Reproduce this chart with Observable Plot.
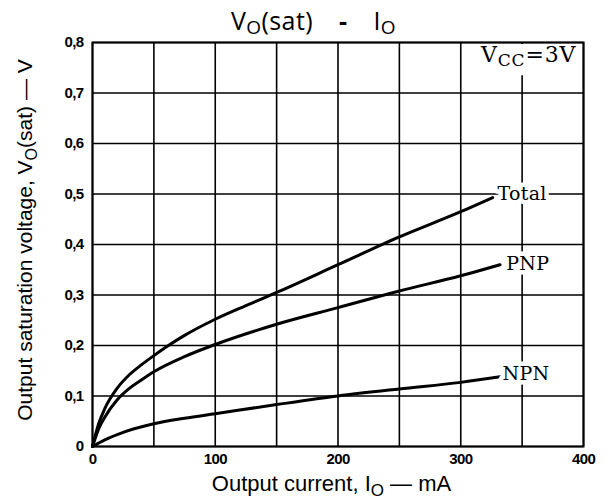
<!DOCTYPE html>
<html><head><meta charset="utf-8">
<script src="https://cdn.jsdelivr.net/npm/d3@7"></script>
<script src="https://cdn.jsdelivr.net/npm/@observablehq/plot@0.6"></script>
<style>
body{margin:0;background:#fff;}
#chart svg{display:block;}
</style></head><body><div id="chart"></div>
<script>
// ---- data ----
const totalI = [0, 5, 10, 20, 30, 40, 50, 60, 75, 100, 125, 150, 200, 250, 300, 326];
const totalV = [0, 0.045, 0.075, 0.115, 0.142, 0.162, 0.18, 0.197, 0.22, 0.252, 0.279, 0.305, 0.36, 0.415, 0.465, 0.493];
const pnpI = [0, 5, 10, 20, 30, 40, 50, 75, 100, 150, 200, 250, 300, 332];
const pnpV = [0, 0.035, 0.058, 0.092, 0.115, 0.132, 0.148, 0.178, 0.202, 0.242, 0.275, 0.308, 0.338, 0.36];
const npnI = [0, 10, 25, 50, 75, 100, 150, 200, 250, 300, 332];
const npnV = [0, 0.013, 0.028, 0.045, 0.056, 0.065, 0.083, 0.1, 0.114, 0.127, 0.138];

const seriesNames = ["Total", "PNP", "NPN"];
const seriesLabelI = [330, 337, 334];
const seriesLabelV = [0.5, 0.362, 0.143];

const xGrid = [0, 50, 100, 150, 200, 250, 300, 350, 400];
const xTickValues = [0, 100, 200, 300, 400];
const yGrid = [0, 0.1, 0.2, 0.3, 0.4, 0.5, 0.6, 0.7, 0.8];
const yTickLabels = ["0", "0,1", "0,2", "0,3", "0,4", "0,5", "0,6", "0,7", "0,8"];
const vccAt = [317, 0.76];

// ---- build tables ----
const rows = [];
[[totalI, totalV, "Total"], [pnpI, pnpV, "PNP"], [npnI, npnV, "NPN"]].forEach(([xs, ys, s]) => {
  xs.forEach((x, i) => rows.push({I: x, V: ys[i], s}));
});
const labels = seriesNames.map((n, i) => ({name: n, I: seriesLabelI[i], V: seriesLabelV[i]}));

const serif = "'DejaVu Serif', 'Liberation Serif', serif";
const sans = "'Liberation Sans', Arial, sans-serif";

const plot = Plot.plot({
  width: 610,
  height: 501,
  marginLeft: 92,
  marginRight: 27,
  marginTop: 42,
  marginBottom: 55,
  style: {fontFamily: sans, fontSize: "15px", fontWeight: "bold", letterSpacing: "-0.6px", background: "#fff", color: "#000"},
  x: {domain: [0, 400]},
  y: {domain: [0, 0.8]},
  marks: [
    Plot.ruleX(xGrid, {stroke: "#000", strokeWidth: 1.6}),
    Plot.ruleY(yGrid, {stroke: "#000", strokeWidth: 1.6}),
    Plot.line(rows, {x: "I", y: "V", z: "s", stroke: "#000", strokeWidth: 3, curve: "monotone-x"}),
    Plot.text(labels, {x: "I", y: "V", text: "name", textAnchor: "start", lineAnchor: "middle",
      fill: "#000", stroke: "#fff", strokeWidth: 9, paintOrder: "stroke",
      fontFamily: serif, fontSize: 19, fontWeight: "normal"}),
    Plot.frame({stroke: "#000", strokeWidth: 2}),
    Plot.axisX({ticks: xTickValues, tickSize: 0, tickPadding: 7, label: null}),
    Plot.axisY({ticks: yGrid, tickSize: 0, tickPadding: 9, label: null,
      tickFormat: (d) => yTickLabels[yGrid.indexOf(d)]})
  ]
});
document.getElementById("chart").appendChild(plot);

const svg = d3.select(plot);
const sx = plot.scale("x"), sy = plot.scale("y");
const x0 = sx.apply(0), x1 = sx.apply(400), y0 = sy.apply(0), y1 = sy.apply(0.8);

// curve labels: normal letter spacing
svg.selectAll("text").filter(function() { return seriesNames.includes(this.textContent); })
  .attr("letter-spacing", 0.3);

// Vcc annotation with white box behind
const vg = svg.append("g");
const vrect = vg.append("rect").attr("fill", "#fff");
const vtext = vg.append("text")
  .attr("x", sx.apply(vccAt[0])).attr("y", sy.apply(vccAt[1]))
  .attr("text-anchor", "start")
  .attr("font-family", serif).attr("font-weight", "normal").attr("font-size", 22)
  .attr("letter-spacing", 0.8).attr("fill", "#000");
vtext.append("tspan").text("V");
vtext.append("tspan").attr("dy", 4).attr("font-size", 17).text("CC");
vtext.append("tspan").attr("dy", -4).text("=3V");
const bb = vtext.node().getBBox();
const boxTop = Math.max(bb.y - 2, y1 + 2);
const boxLeft = bb.x - 3;
vrect.attr("x", boxLeft).attr("y", boxTop)
  .attr("width", Math.min(bb.width + 6, x1 - 2 - boxLeft))
  .attr("height", bb.y + bb.height + 5 - boxTop);

// title
const title = svg.append("text").attr("x", (x0 + x1) / 2 - 24).attr("y", 30)
  .attr("text-anchor", "middle").attr("font-family", "'Open Sans', 'DejaVu Sans', sans-serif")
  .attr("font-weight", "normal").attr("font-size", 25).attr("letter-spacing", 0.4).attr("fill", "#000");
title.append("tspan").text("V");
title.append("tspan").attr("dy", 4).attr("font-size", 19).text("O");
title.append("tspan").attr("dy", -4).text("(sat)");
title.append("tspan").attr("dx", 26).attr("font-weight", "bold").text("-");
title.append("tspan").attr("dx", 26).text("I");
title.append("tspan").attr("dy", 4).attr("font-size", 19).text("O");

// x axis label
const xl = svg.append("text").attr("x", (x0 + x1) / 2 - 6).attr("y", 491)
  .attr("text-anchor", "middle").attr("font-family", sans).attr("font-weight", "normal")
  .attr("font-size", 22).attr("letter-spacing", 0).attr("fill", "#000");
xl.append("tspan").text("Output current, I");
xl.append("tspan").attr("dy", 5).attr("font-size", 17).text("O");
xl.append("tspan").attr("dy", -5).text(" — mA");

// y axis label
const yl = svg.append("text").attr("transform", `translate(32,${(y0 + y1) / 2 - 4}) rotate(-90)`)
  .attr("text-anchor", "middle").attr("font-family", sans).attr("font-weight", "normal")
  .attr("font-size", 21).attr("letter-spacing", 0).attr("fill", "#000");
yl.append("tspan").text("Output saturation voltage, V");
yl.append("tspan").attr("dy", 5).attr("font-size", 16).text("O");
yl.append("tspan").attr("dy", -5).text("(sat) — V");
</script></body></html>
